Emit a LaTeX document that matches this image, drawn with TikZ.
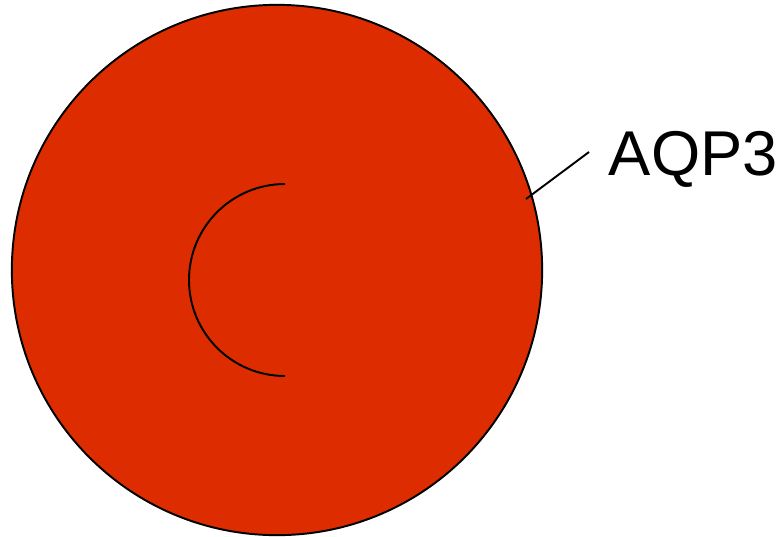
\documentclass[tikz,border=0pt]{standalone}
\usepackage{fontspec}
\setmainfont{Liberation Sans}
\definecolor{cellred}{HTML}{DD2D00}

\begin{document}
\begin{tikzpicture}[x=0.01cm, y=-0.01cm, line width=0.55pt,
  cell/.style={circle, draw=black, fill=cellred, inner sep=0pt, minimum size=5.30cm},
  tag/.style={anchor=base west, inner sep=0pt, font=\fontsize{18}{21}\selectfont},
]
  \useasboundingbox (0,0) rectangle (782,536);
  % outer cell body
  \node[cell] (cell) at (277,270) {};
  % inner half ring, open to the right
  \coordinate (ringtop) at (285,184);
  \draw (ringtop) arc[start angle=270, end angle=90, radius=96];
  % label with its leader line
  \node[tag] (aqp) at (608,175) {AQP3};
  \coordinate (lstart) at (526,199);
  \coordinate (lend) at (589,152);
  \draw (lstart) -- (lend);
\end{tikzpicture}
\end{document}
